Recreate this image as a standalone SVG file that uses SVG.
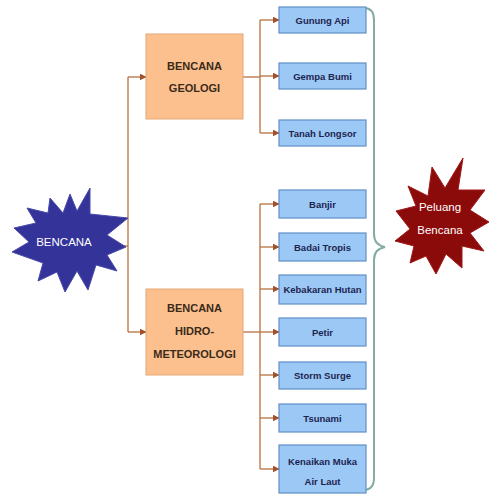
<svg xmlns="http://www.w3.org/2000/svg" width="490" height="497" viewBox="0 0 490 497">
<defs>
<marker id="ah" viewBox="0 0 10 10" refX="9" refY="5" markerWidth="7" markerHeight="7" markerUnits="userSpaceOnUse" orient="auto">
<path d="M0,0 L10,5 L0,10 z" fill="#a0522d"/>
</marker>
<style>
.con{stroke:#b8703f;stroke-width:1.3;fill:none}
.arr{stroke:#b8703f;stroke-width:1.3;fill:none;marker-end:url(#ah)}
.ob{fill:#fbc08e;stroke:#e3a877;stroke-width:1}
.bb{fill:#9cc8f5;stroke:#5f8fc8;stroke-width:1.2}
.ot{font-family:"Liberation Sans",Arial,sans-serif;font-size:11px;font-weight:bold;fill:#3a2a1a;text-anchor:middle}
.bt{font-family:"Liberation Sans",Arial,sans-serif;font-size:9.5px;font-weight:bold;fill:#1c2450;text-anchor:middle}
.st{font-family:"Liberation Sans",Arial,sans-serif;font-size:11.5px;fill:#ffffff;text-anchor:middle}
</style>
</defs>
<rect width="490" height="497" fill="#ffffff"/>
<g id="connectors">
<polyline class="con" points="112,246 128,246"/>
<polyline class="con" points="128,77 128,332"/>
<polyline class="arr" points="128,77 146,77"/>
<polyline class="arr" points="128,332 146,332"/>
<polyline class="con" points="243,77 260,77"/>
<polyline class="con" points="260,20 260,133"/>
<polyline class="arr" points="260,20 279,20"/>
<polyline class="arr" points="260,76 279,76"/>
<polyline class="arr" points="260,133 279,133"/>
<polyline class="con" points="243,332 260,332"/>
<polyline class="con" points="260,204 260,469"/>
<polyline class="arr" points="260,204 279,204"/>
<polyline class="arr" points="260,247 279,247"/>
<polyline class="arr" points="260,289 279,289"/>
<polyline class="arr" points="260,332 279,332"/>
<polyline class="arr" points="260,375 279,375"/>
<polyline class="arr" points="260,418 279,418"/>
<polyline class="arr" points="260,469 279,469"/>
</g>
<g id="brace">
<path d="M364,8 Q374,8 374,20 L374,234 Q374,245 385,247 Q374,249 374,260 L374,478 Q374,490 363,490" fill="none" stroke="#84aba4" stroke-width="2"/>
</g>
<g id="bencana">
<polygon points="90,188 90,214 128,218 107,235 126,247 107,255 117,271 96,265 88,290 77,271 65,292 57,272 38,281 43,263 12,252 29,242 14,228 36,223 27,208 48,213 50,198 63,213 70,194 77,211" fill="#333399" stroke="#4a4aa8" stroke-width="1"/>
<text class="st" x="64" y="246">BENCANA</text>
</g>
<g id="geologi">
<rect class="ob" x="146" y="34" width="97" height="85"/>
<text class="ot" x="194.5" y="70">BENCANA</text>
<text class="ot" x="194.5" y="92">GEOLOGI</text>
</g>
<g id="hidro">
<rect class="ob" x="146" y="289" width="97" height="86"/>
<text class="ot" x="194.5" y="312">BENCANA</text>
<text class="ot" x="194.5" y="335">HIDRO-</text>
<text class="ot" x="194.5" y="358">METEOROLOGI</text>
</g>
<g id="gunung-api"><rect class="bb" x="279" y="7" width="87" height="26"/><text class="bt" x="322.5" y="23.5">Gunung Api</text></g>
<g id="gempa-bumi"><rect class="bb" x="279" y="63" width="87" height="26"/><text class="bt" x="322.5" y="79.5">Gempa Bumi</text></g>
<g id="tanah-longsor"><rect class="bb" x="279" y="120" width="87" height="26"/><text class="bt" x="322.5" y="136.5">Tanah Longsor</text></g>
<g id="banjir"><rect class="bb" x="279" y="190" width="87" height="28"/><text class="bt" x="322.5" y="207.5">Banjir</text></g>
<g id="badai-tropis"><rect class="bb" x="279" y="233" width="87" height="28"/><text class="bt" x="322.5" y="250.5">Badai Tropis</text></g>
<g id="kebakaran-hutan"><rect class="bb" x="279" y="275" width="87" height="29"/><text class="bt" x="322.5" y="293">Kebakaran Hutan</text></g>
<g id="petir"><rect class="bb" x="279" y="318" width="87" height="28"/><text class="bt" x="322.5" y="335.5">Petir</text></g>
<g id="storm-surge"><rect class="bb" x="279" y="362" width="87" height="27"/><text class="bt" x="322.5" y="379">Storm Surge</text></g>
<g id="tsunami"><rect class="bb" x="279" y="404" width="87" height="28"/><text class="bt" x="322.5" y="421.5">Tsunami</text></g>
<g id="kenaikan"><rect class="bb" x="279" y="445" width="87" height="48"/><text class="bt" x="322.5" y="464.5">Kenaikan Muka</text><text class="bt" x="322.5" y="484.5">Air Laut</text></g>
<g id="peluang">
<polygon points="463,158 458,190 485,190 470,210 489,222 470,233 484,251 462,246 462,268 446,254 436,274 426,256 410,263 414,246 395,241 410,229 396,211 416,206 408,186 428,196 432,167 445,188" fill="#8b0a0a" stroke="#a01818" stroke-width="1"/>
<text class="st" x="440" y="211">Peluang</text>
<text class="st" x="440" y="234">Bencana</text>
</g>
</svg>
